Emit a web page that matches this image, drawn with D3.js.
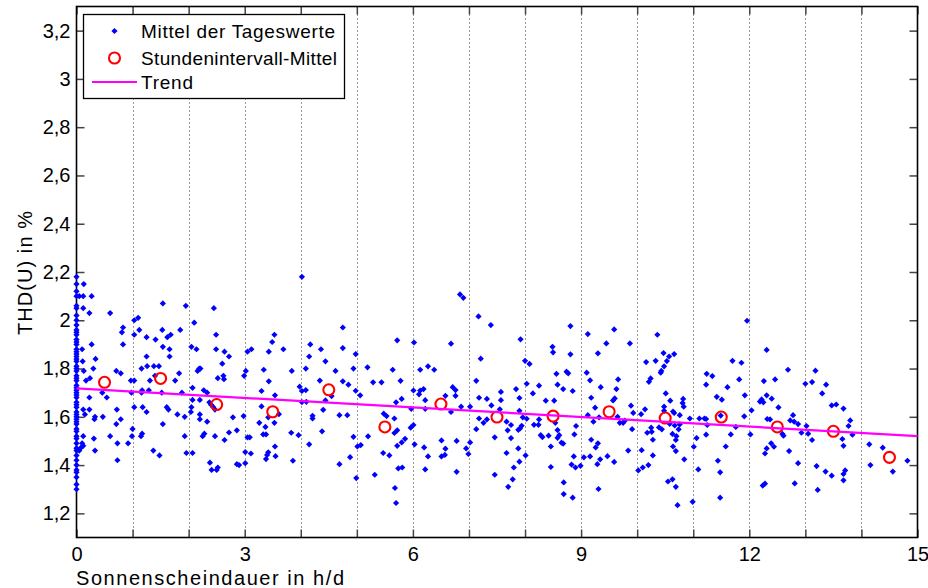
<!DOCTYPE html>
<html>
<head>
<meta charset="utf-8">
<script src="https://cdn.jsdelivr.net/npm/d3@7"></script>
<style>
  html, body { margin: 0; padding: 0; background: #fff; }
  svg { display: block; font-family: "Liberation Sans", Arial, Helvetica, sans-serif; }
</style>
</head>
<body>
<svg id="chart" width="928" height="588"></svg>
<script>
// Daily means with zero hours of sunshine (x = 0)
const noSunDays = [2.18, 2.15, 2.12, 2.10, 2.06, 2.05, 2.02, 2.00, 1.98, 1.96, 1.95, 1.94, 1.92, 1.91,
  1.90, 1.88, 1.87, 1.86, 1.85, 1.84, 1.83, 1.81, 1.80, 1.79, 1.77, 1.76, 1.75, 1.73, 1.72, 1.71,
  1.70, 1.69, 1.68, 1.66, 1.65, 1.64, 1.62, 1.61, 1.60, 1.59, 1.58, 1.57, 1.55, 1.54, 1.52, 1.51,
  1.49, 1.47, 1.46, 1.44, 1.42, 1.40, 1.38, 1.37, 1.35, 1.32, 1.30];

// Daily means: [sunshine duration h/d, THD(U) %]
const dailyMeans = [
  [0.13,2.15],[0.05,2.10],[0.12,2.10],[0.27,2.10],[0.12,2.05],[0.23,2.03],[0.60,2.03],[1.54,2.07],[1.95,2.06],[2.45,2.05],
  [1.03,2.00],[1.10,2.01],[2.10,1.99],[0.83,1.97],[0.81,1.95],[1.12,1.96],[1.03,1.94],[1.53,1.96],[1.68,1.94],[1.85,1.96],
  [2.49,1.94],[1.25,1.93],[1.41,1.92],[1.62,1.93],[0.27,1.90],[0.83,1.90],[1.54,1.89],[1.66,1.88],[2.05,1.89],[2.14,1.88],
  [2.49,1.88],[0.10,1.88],[1.66,1.85],[1.25,1.85],[0.34,1.84],[0.11,1.83],[1.26,1.81],[1.38,1.81],[1.47,1.81],[1.16,1.80],
  [0.71,1.79],[0.79,1.78],[0.30,1.80],[0.13,1.79],[0.24,1.76],[0.17,1.75],[1.83,1.78],[2.19,1.80],[2.21,1.80],[2.16,1.79],
  [2.52,1.76],[1.31,1.75],[1.76,1.75],[0.97,1.75],[1.03,1.75],[1.40,1.77],[1.17,1.71],[0.98,1.70],[1.16,1.70],[1.29,1.71],
  [1.52,1.70],[0.46,1.70],[0.54,1.68],[0.23,1.68],[1.88,1.70],[2.07,1.72],[2.27,1.71],[2.33,1.70],[2.37,1.66],[2.40,1.65],
  [2.44,1.64],[2.47,1.63],[2.07,1.67],[2.20,1.67],[1.61,1.64],[1.64,1.63],[1.03,1.64],[1.18,1.64],[1.25,1.62],[1.80,1.61],
  [2.05,1.64],[2.04,1.62],[2.20,1.61],[0.72,1.63],[0.23,1.63],[0.12,1.63],[0.15,1.61],[0.33,1.60],[0.47,1.60],[0.32,1.59],
  [0.79,1.59],[2.20,1.59],[0.71,1.57],[2.33,1.58],[1.54,1.57],[1.93,1.60],[1.00,1.55],[0.99,1.52],[1.17,1.53],[1.15,1.52],
  [2.28,1.53],[2.25,1.52],[1.93,1.52],[2.47,1.52],[0.12,1.52],[0.31,1.51],[0.60,1.52],[0.73,1.49],[0.92,1.49],[0.10,1.49],
  [0.12,1.48],[0.07,1.47],[0.05,1.46],[0.33,1.46],[1.37,1.46],[1.48,1.44],[1.96,1.45],[2.07,1.45],[0.73,1.42],[2.38,1.41],
  [2.52,1.39],[2.41,1.38],[2.50,1.38],
  [4.02,2.18],[4.75,1.97],[3.53,1.94],[3.49,1.91],[4.17,1.90],[3.12,1.88],[3.05,1.87],[3.43,1.87],[3.69,1.88],[4.36,1.88],
  [4.75,1.885],[2.64,1.87],[2.72,1.85],[4.15,1.85],[4.44,1.83],[4.98,1.86],[2.60,1.82],[3.34,1.795],[3.84,1.79],[4.09,1.80],
  [4.62,1.79],[4.94,1.80],[3.02,1.79],[2.99,1.77],[2.62,1.77],[2.63,1.756],[3.43,1.747],[4.34,1.75],[4.75,1.747],[4.85,1.733],
  [3.98,1.725],[4.02,1.707],[4.09,1.711],[3.30,1.707],[4.98,1.708],[5.06,1.689],[3.54,1.689],[4.55,1.686],[4.44,1.668],[4.02,1.661],
  [4.10,1.662],[3.30,1.643],[3.42,1.598],[3.61,1.611],[4.40,1.629],[2.79,1.598],[2.98,1.603],[4.21,1.604],[4.21,1.593],[4.69,1.607],
  [4.83,1.607],[3.26,1.575],[3.53,1.575],[3.37,1.558],[2.72,1.535],[2.86,1.544],[2.64,1.504],[3.33,1.527],[3.38,1.527],[3.83,1.534],
  [3.96,1.524],[4.38,1.540],[3.05,1.515],[3.09,1.515],[4.94,1.517],[3.01,1.454],[3.11,1.448],[4.15,1.486],[3.54,1.477],[5.01,1.477],
  [5.07,1.483],[3.42,1.453],[3.40,1.442],[3.38,1.425],[3.55,1.437],[4.88,1.433],[3.01,1.408],[3.86,1.418],[2.86,1.404],[2.90,1.400],
  [4.69,1.404],[4.99,1.346],
  [6.84,2.107],[6.90,2.093],[7.17,2.016],[7.39,1.980],[5.72,1.917],[6.02,1.908],[6.68,1.903],[7.21,1.841],[5.19,1.805],[5.64,1.795],
  [6.13,1.795],[6.27,1.809],[6.38,1.795],[5.29,1.743],[5.44,1.743],[5.78,1.749],[7.13,1.749],[6.71,1.723],[6.76,1.711],[6.76,1.687],
  [6.01,1.709],[6.13,1.709],[6.19,1.715],[6.11,1.693],[6.58,1.687],[5.80,1.674],[5.70,1.660],[6.22,1.669],[7.18,1.679],[7.32,1.674],
  [7.57,1.703],[7.57,1.669],[5.97,1.633],[6.22,1.633],[6.68,1.620],[6.86,1.642],[7.02,1.642],[7.40,1.647],[7.55,1.631],[5.48,1.613],
  [5.53,1.603],[5.67,1.593],[7.18,1.593],[7.26,1.575],[7.32,1.589],[7.67,1.580],[6.01,1.566],[5.96,1.555],[7.13,1.549],[7.69,1.544],
  [5.72,1.544],[5.67,1.533],[5.20,1.519],[5.86,1.509],[5.80,1.494],[5.72,1.480],[6.03,1.486],[6.51,1.502],[6.78,1.500],[7.02,1.494],
  [7.46,1.515],[6.20,1.473],[6.58,1.468],[6.95,1.469],[5.47,1.450],[5.58,1.440],[6.27,1.436],[6.51,1.436],[6.57,1.442],[6.99,1.446],
  [7.67,1.450],[5.74,1.386],[5.81,1.390],[6.22,1.382],[6.78,1.372],[5.32,1.360],[7.46,1.360],[5.68,1.305],[5.70,1.243],[7.70,1.310],
  [8.81,1.976],[9.12,1.943],[9.59,1.962],[7.92,1.921],[9.45,1.904],[9.87,1.904],[8.49,1.890],[8.50,1.867],[8.81,1.859],[9.30,1.863],
  [8.00,1.832],[8.08,1.819],[10.16,1.827],[8.56,1.778],[8.74,1.787],[8.77,1.780],[9.10,1.783],[9.16,1.751],[9.66,1.755],[10.24,1.759],
  [10.21,1.745],[8.03,1.737],[8.58,1.733],[8.68,1.715],[8.85,1.707],[8.25,1.729],[9.35,1.723],[9.63,1.715],[7.84,1.715],[8.14,1.697],
  [7.90,1.678],[9.18,1.679],[9.60,1.676],[9.57,1.668],[8.37,1.667],[8.52,1.667],[9.25,1.638],[9.89,1.646],[10.14,1.631],[7.90,1.625],
  [9.93,1.616],[10.07,1.611],[9.12,1.607],[9.32,1.598],[7.96,1.598],[8.03,1.592],[8.25,1.589],[9.65,1.600],[7.75,1.566],[9.22,1.580],
  [9.69,1.575],[9.75,1.575],[9.78,1.584],[8.54,1.575],[8.91,1.562],[8.16,1.567],[8.24,1.567],[7.94,1.563],[7.91,1.552],[7.88,1.546],
  [8.58,1.545],[8.61,1.524],[8.58,1.513],[9.91,1.549],[10.25,1.555],[10.26,1.538],[10.18,1.534],[8.28,1.524],[8.31,1.516],[8.42,1.522],
  [7.75,1.512],[8.88,1.527],[9.18,1.505],[10.28,1.505],[9.30,1.490],[9.26,1.473],[8.65,1.493],[8.68,1.489],[8.46,1.477],[7.88,1.469],
  [8.01,1.440],[9.84,1.460],[10.08,1.462],[10.28,1.440],[8.87,1.436],[9.05,1.432],[9.16,1.436],[9.47,1.437],[7.90,1.414],[9.34,1.424],
  [9.29,1.404],[9.59,1.413],[8.83,1.402],[8.90,1.390],[8.99,1.397],[8.46,1.392],[10.20,1.400],[10.10,1.390],[10.02,1.378],[7.80,1.390],
  [7.78,1.341],[8.69,1.328],[8.69,1.280],[8.85,1.265],[9.31,1.301],
  [11.96,1.998],[10.36,1.940],[10.47,1.864],[10.66,1.860],[10.57,1.850],[12.31,1.877],[10.33,1.832],[11.70,1.832],[11.86,1.824],[10.53,1.831],
  [10.48,1.809],[10.43,1.790],[10.42,1.783],[12.69,1.795],[11.24,1.778],[11.34,1.769],[11.23,1.733],[11.82,1.755],[12.26,1.748],[12.46,1.755],
  [11.61,1.723],[10.51,1.697],[12.31,1.689],[12.40,1.675],[11.42,1.683],[11.51,1.671],[10.59,1.667],[10.82,1.674],[10.81,1.657],[10.83,1.642],
  [11.92,1.689],[12.22,1.672],[12.19,1.663],[12.25,1.660],[12.52,1.639],[12.04,1.627],[10.48,1.642],[10.48,1.625],[10.64,1.622],[10.66,1.616],
  [10.76,1.607],[10.94,1.593],[11.11,1.593],[11.20,1.593],[11.23,1.591],[11.49,1.605],[11.91,1.602],[12.78,1.607],[12.73,1.585],[12.32,1.591],
  [12.37,1.589],[12.87,1.570],[10.58,1.571],[10.67,1.564],[10.76,1.569],[10.39,1.556],[10.44,1.548],[10.74,1.548],[11.25,1.566],[11.76,1.558],
  [10.63,1.529],[10.70,1.520],[10.69,1.504],[12.59,1.529],[12.61,1.522],[11.23,1.526],[11.67,1.527],[12.02,1.527],[11.06,1.512],[12.39,1.490],
  [12.44,1.476],[10.64,1.477],[10.69,1.458],[11.01,1.476],[11.58,1.477],[12.31,1.469],[12.28,1.448],[12.71,1.458],[10.84,1.424],[11.44,1.418],
  [12.87,1.408],[11.09,1.382],[11.48,1.370],[10.55,1.332],[10.63,1.341],[10.69,1.310],[12.28,1.323],[12.24,1.315],[12.81,1.324],[11.48,1.265],
  [10.72,1.234],[10.99,1.248],
  [13.18,1.791],[13.00,1.737],[13.12,1.744],[13.37,1.733],[13.30,1.697],[13.47,1.647],[13.55,1.651],[13.68,1.634],[12.80,1.580],[13.02,1.562],
  [13.80,1.585],[13.77,1.562],[12.93,1.534],[13.05,1.530],[13.84,1.526],[13.66,1.508],[13.12,1.504],[13.68,1.480],[14.14,1.486],[14.38,1.472],
  [14.82,1.418],[13.20,1.396],[14.16,1.400],[13.36,1.373],[13.47,1.356],[13.71,1.378],[13.68,1.363],[13.68,1.337],[14.56,1.373],[13.22,1.297]
];

// Means per one-hour sunshine interval
const hourBins  = [0.5, 1.5, 2.5, 3.5, 4.5, 5.5, 6.5, 7.5, 8.5, 9.5, 10.5, 11.5, 12.5, 13.5, 14.5];
const hourMeans = [1.743, 1.759, 1.651, 1.621, 1.712, 1.558, 1.653, 1.599, 1.603, 1.621, 1.595, 1.599, 1.558, 1.540, 1.432];

// Linear trend end points
const trendX = [0, 15];
const trendY = [1.718, 1.520];

// Axis ticks
const xTicks = d3.range(0, 16);
const xLabelled = [0, 3, 6, 9, 12, 15];
const yTicks = [1.2, 1.4, 1.6, 1.8, 2.0, 2.2, 2.4, 2.6, 2.8, 3.0, 3.2];

const legendLabels = ["Mittel der Tageswerte", "Stundenintervall-Mittel", "Trend"];

const svg = d3.select("#chart");
const L = 76.5, R = 917.5, T = 6.5, B = 537.5;
const x = d3.scaleLinear().domain([0, 15]).range([L, R]);
const y = d3.scaleLinear().domain([1.1, 3.3]).range([B, T]);
const font = "Liberation Sans, Arial, sans-serif";
const dotPath = "M0,-3.1L3.1,0L0,3.1L-3.1,0Z";

svg.append("rect").attr("width", 928).attr("height", 588).attr("fill", "#fff");

// dotted vertical grid
svg.append("g").selectAll("line")
  .data(xTicks.filter(d => d > 0 && d < 15))
  .join("line")
  .attr("x1", d => Math.round(x(d)) + 0.5).attr("x2", d => Math.round(x(d)) + 0.5)
  .attr("y1", T).attr("y2", B)
  .attr("stroke", "#333").attr("stroke-width", 1)
  .attr("stroke-dasharray", "1,3");

const fmtY = d => String(+d.toFixed(1)).replace(".", ",");

function styleAxis(g) {
  g.select(".domain").remove();
  g.selectAll(".tick line").attr("stroke", "#444").attr("stroke-width", 1.5);
  g.selectAll(".tick text").attr("fill", "#000").attr("font-size", 20).attr("font-family", font);
}

svg.append("g").attr("transform", `translate(0,${B})`)
  .call(d3.axisBottom(x).tickValues(xTicks).tickSizeInner(-8).tickSizeOuter(0).tickPadding(9)
    .tickFormat(d => xLabelled.includes(d) ? d : ""))
  .call(styleAxis);
svg.append("g").attr("transform", `translate(0,${T})`)
  .call(d3.axisTop(x).tickValues(xTicks).tickSizeInner(-8).tickSizeOuter(0).tickFormat(""))
  .call(styleAxis);
svg.append("g").attr("transform", `translate(${L},0)`)
  .call(d3.axisLeft(y).tickValues(yTicks).tickSizeInner(-8).tickSizeOuter(0).tickPadding(6).tickFormat(fmtY))
  .call(styleAxis);
svg.append("g").attr("transform", `translate(${R},0)`)
  .call(d3.axisRight(y).tickValues(yTicks).tickSizeInner(-8).tickSizeOuter(0).tickFormat(""))
  .call(styleAxis);

// plot box
svg.append("rect").attr("x", L).attr("y", T).attr("width", R - L).attr("height", B - T)
  .attr("fill", "none").attr("stroke", "#000").attr("stroke-width", 1.6);

// daily means
const dots = svg.append("g").attr("fill", "#0000ff");
dots.selectAll("path.z").data(noSunDays).join("path").attr("class", "z")
  .attr("d", dotPath).attr("transform", d => `translate(${x(0)},${y(d)})`);
dots.selectAll("path.d").data(dailyMeans).join("path").attr("class", "d")
  .attr("d", dotPath).attr("transform", d => `translate(${x(d[0])},${y(d[1])})`);

// hourly interval means
svg.append("g").selectAll("circle").data(hourBins).join("circle")
  .attr("cx", d => x(d)).attr("cy", (d, i) => y(hourMeans[i])).attr("r", 5.5)
  .attr("fill", "none").attr("stroke", "#ff0000").attr("stroke-width", 2.1);

// trend line
svg.append("path")
  .datum(trendX.map((d, i) => [d, trendY[i]]))
  .attr("d", d3.line().x(d => x(d[0])).y(d => y(d[1])))
  .attr("fill", "none").attr("stroke", "#ff00ff").attr("stroke-width", 2.2);

// axis titles
svg.append("text").attr("transform", "translate(32,273) rotate(-90)")
  .attr("text-anchor", "middle").attr("font-size", 20).attr("font-family", font)
  .attr("textLength", 124).attr("lengthAdjust", "spacing")
  .text("THD(U) in %");
svg.append("text").attr("x", 76).attr("y", 585)
  .attr("font-size", 20).attr("font-family", font)
  .attr("textLength", 268).attr("lengthAdjust", "spacing")
  .text("Sonnenscheindauer in h/d");

// legend
const lg = svg.append("g");
lg.append("rect").attr("x", 83.5).attr("y", 14.5).attr("width", 261).attr("height", 84)
  .attr("fill", "#fff").attr("stroke", "#000").attr("stroke-width", 1.3);
const rowY = [31, 58, 82];
const textW = [194, 196, 52];
lg.append("path").attr("d", dotPath).attr("transform", `translate(114.5,${rowY[0]})`).attr("fill", "#0000ff");
lg.append("circle").attr("cx", 114.5).attr("cy", rowY[1]).attr("r", 5.5)
  .attr("fill", "none").attr("stroke", "#ff0000").attr("stroke-width", 2.1);
lg.append("line").attr("x1", 92).attr("x2", 137).attr("y1", rowY[2]).attr("y2", rowY[2])
  .attr("stroke", "#ff00ff").attr("stroke-width", 2.2);
lg.selectAll("text").data(legendLabels).join("text")
  .attr("x", 141).attr("y", (d, i) => rowY[i] + 7)
  .attr("font-size", 19).attr("font-family", font)
  .attr("textLength", (d, i) => textW[i]).attr("lengthAdjust", "spacing")
  .text(d => d);
</script>
</body>
</html>
